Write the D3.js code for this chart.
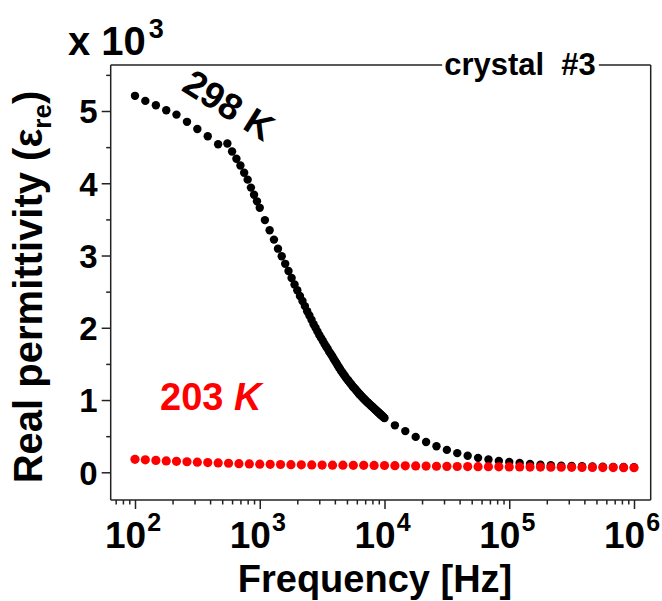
<!DOCTYPE html>
<html><head><meta charset="utf-8">
<script src="https://cdn.jsdelivr.net/npm/d3@7"></script>
<style>
html,body{margin:0;padding:0;background:#fff;}
svg{display:block;}
text{font-family:"Liberation Sans",Arial,sans-serif;font-weight:bold;}
</style></head>
<body>
<svg id="chart" width="662" height="601"></svg>
<script>
// ---------- data ----------
const xMajorTicks = [1e2, 1e3, 1e4, 1e5, 1e6];
const xMajorExp = ["2", "3", "4", "5", "6"];
const yMajorTicks = [0, 1, 2, 3, 4, 5];
const yMinorTicks = [0.5, 1.5, 2.5, 3.5, 4.5, 5.5];

// 298 K : low-frequency sweep
const freq298Low = [100,121,147,178,215,261,316,383,464];
const eps298Low  = [5.21,5.14,5.08,5.01,4.95,4.85,4.75,4.65,4.54];
// 298 K : dense sweep
const freq298Mid = [550,600,650,700,750,800,850,900,950,1000,
  1100,1200,1300,1400,1500,1600,1700,1800,1900,2000,
  2100,2200,2300,2400,2500,2600,2700,2800,2900,3000,
  3100,3200,3300,3400,3500,3600,3700,3800,3900,4000,
  4100,4200,4300,4400,4500,4600,4700,4800,4900,5000,
  5100,5200,5300,5400,5500,5600,5700,5800,5900,6000,
  6100,6200,6300,6400,6500,6600,6700,6800,6900,7000,
  7100,7200,7300,7400,7500,7600,7700,7800,7900,8000,
  8100,8200,8300,8400,8500,8600,8700,8800,8900,9000,
  9100,9200,9300,9400,9500,9600,9700,9800,9900,10000];
const eps298Mid = [4.55,4.44,4.34,4.245,4.145,4.05,3.94,3.84,3.75,3.66,
  3.49,3.35,3.22,3.095,2.99,2.885,2.785,2.69,2.60,2.52,
  2.44,2.37,2.30,2.23,2.17,2.11,2.05,2.00,1.95,1.90,
  1.86,1.82,1.78,1.74,1.71,1.67,1.64,1.61,1.575,1.545,
  1.515,1.485,1.455,1.43,1.40,1.38,1.355,1.335,1.31,1.29,
  1.275,1.255,1.235,1.22,1.20,1.18,1.17,1.155,1.14,1.125,
  1.11,1.095,1.08,1.07,1.057,1.045,1.033,1.022,1.01,0.999,
  0.988,0.978,0.969,0.959,0.95,0.94,0.931,0.922,0.914,0.905,
  0.896,0.888,0.879,0.871,0.863,0.855,0.847,0.839,0.831,0.823,
  0.816,0.808,0.80,0.793,0.786,0.778,0.771,0.764,0.757,0.75];
// 298 K : high-frequency sweep
const freq298High = [12115,14678,17783,21544,26102,31623,38312,46416,56234,68129,82540,100000,
  121153,146780,177828,215443,261016,316228,383119,464159,562341,681292,825404,1000000];
const eps298High = [0.65,0.57,0.49,0.42,0.36,0.31,0.265,0.23,0.20,0.178,0.158,0.142,
  0.128,0.116,0.106,0.098,0.092,0.087,0.083,0.080,0.077,0.075,0.073,0.071];

// 203 K
const freq203 = [100,121,147,178,215,261,316,383,464,562,681,825,1000,
  1212,1468,1778,2154,2610,3162,3831,4642,5623,6813,8254,10000,
  12115,14678,17783,21544,26102,31623,38312,46416,56234,68129,82540,100000,
  121153,146780,177828,215443,261016,316228,383119,464159,562341,681292,825404,1000000];
const eps203 = [0.18,0.172,0.165,0.158,0.152,0.146,0.14,0.135,0.13,0.125,0.12,0.116,0.112,
  0.11,0.108,0.106,0.104,0.102,0.10,0.099,0.098,0.097,0.096,0.095,0.094,
  0.092,0.09,0.088,0.086,0.084,0.082,0.08,0.079,0.078,0.077,0.076,0.075,
  0.074,0.073,0.072,0.071,0.07,0.069,0.068,0.067,0.066,0.065,0.064,0.063];

// ---------- layout ----------
const frame = {left: 110.7, right: 650.7, top: 65, bottom: 500};
const svg = d3.select("#chart");
const x = d3.scaleLog().domain([1e2, 1e6]).range([135, 634]);
const y = d3.scaleLinear().domain([0, 5]).range([472.3, 111]);
const axisColor = "#222";

// minor x ticks
const xMinorTicks = [];
[10, 100, 1000, 10000, 100000].forEach(d => {
  for (let m = 2; m <= 9; m++) {
    const v = d * m;
    const px = x(v);
    if (px > frame.left + 1 && px < frame.right - 1) xMinorTicks.push(v);
  }
});

// ---------- axes ----------
const gx = svg.append("g").attr("transform", `translate(0,${frame.bottom})`);
gx.call(d3.axisBottom(x).tickValues(xMajorTicks).tickSize(9).tickFormat(""));
const gxm = svg.append("g").attr("transform", `translate(0,${frame.bottom})`);
gxm.call(d3.axisBottom(x).tickValues(xMinorTicks).tickSize(4.5).tickFormat(""));
const gy = svg.append("g").attr("transform", `translate(${frame.left},0)`);
gy.call(d3.axisLeft(y).tickValues(yMajorTicks).tickSize(9).tickFormat(d3.format("d")));
const gym = svg.append("g").attr("transform", `translate(${frame.left},0)`);
gym.call(d3.axisLeft(y).tickValues(yMinorTicks).tickSize(4.5).tickFormat(""));
[gx, gxm, gy, gym].forEach(g => {
  g.select(".domain").remove();
  g.selectAll(".tick line").attr("stroke", axisColor).attr("stroke-width", 1.5);
});
gy.selectAll(".tick text")
  .attr("x", -13).attr("dy", "0.36em")
  .attr("font-size", 33).attr("font-weight", "bold")
  .attr("font-family", '"Liberation Sans",Arial,sans-serif').attr("fill", "#000");

// x tick labels with superscripts
const xl = svg.append("g");
xMajorTicks.forEach((v, i) => {
  const t = xl.append("text").attr("x", x(v) - 2).attr("y", 548)
    .attr("text-anchor", "middle").attr("font-size", 37).attr("fill", "#000");
  t.append("tspan").text("10");
  t.append("tspan").attr("font-size", 25).attr("dy", -17).attr("dx", 1).text(xMajorExp[i]);
});

// ---------- frame ----------
const fr = svg.append("g").attr("stroke", axisColor).attr("stroke-width", 1.5).attr("fill", "none");
fr.append("line").attr("x1", frame.left).attr("x2", frame.left).attr("y1", frame.top).attr("y2", frame.bottom);
fr.append("line").attr("x1", frame.left).attr("x2", frame.right).attr("y1", frame.bottom).attr("y2", frame.bottom);
fr.append("line").attr("x1", frame.right).attr("x2", frame.right).attr("y1", frame.top).attr("y2", frame.bottom);

const crystal = svg.append("text").attr("x", 520).attr("y", 75).attr("text-anchor", "middle")
  .attr("font-size", 31).attr("fill", "#000").text("crystal\u00a0\u00a0#3");
const cb = crystal.node().getBBox();
fr.append("line").attr("x1", frame.left).attr("x2", cb.x - 2).attr("y1", frame.top).attr("y2", frame.top);
fr.append("line").attr("x1", cb.x + cb.width + 3).attr("x2", frame.right).attr("y1", frame.top).attr("y2", frame.top);

// ---------- data points ----------
const pts298 = [];
freq298Low.forEach((f, i) => pts298.push([f, eps298Low[i]]));
freq298Mid.forEach((f, i) => pts298.push([f, eps298Mid[i]]));
freq298High.forEach((f, i) => pts298.push([f, eps298High[i]]));
svg.append("g").selectAll("circle").data(pts298).join("circle")
  .attr("cx", d => x(d[0])).attr("cy", d => y(d[1])).attr("r", 4.2).attr("fill", "#000");

const pts203 = freq203.map((f, i) => [f, eps203[i]]);
svg.append("g").selectAll("circle").data(pts203).join("circle")
  .attr("cx", d => x(d[0])).attr("cy", d => y(d[1])).attr("r", 4.6).attr("fill", "#ff0000");

// ---------- labels ----------
const mult = svg.append("text").attr("x", 68).attr("y", 55).attr("font-size", 40).attr("fill", "#000");
mult.append("tspan").text("x 10");
mult.append("tspan").attr("font-size", 27).attr("dy", -17).attr("dx", 3).text("3");

const ylab = svg.append("text").attr("transform", "translate(42,287) rotate(-90)")
  .attr("text-anchor", "middle").attr("font-size", 40).attr("fill", "#000");
ylab.append("tspan").text("Real permittivity (ε");
ylab.append("tspan").attr("font-size", 26).attr("dy", 9).text("re");
ylab.append("tspan").attr("dy", -9).text(")");

svg.append("text").attr("x", 375).attr("y", 592).attr("text-anchor", "middle")
  .attr("font-size", 38).attr("fill", "#000").text("Frequency [Hz]");

const l298 = svg.append("text").attr("transform", "translate(222,116) rotate(32)")
  .attr("text-anchor", "middle").attr("font-size", 37).attr("fill", "#000");
l298.append("tspan").text("298 K");

const l203 = svg.append("text").attr("x", 160).attr("y", 410)
  .attr("font-size", 38).attr("fill", "#ff0000");
l203.append("tspan").text("203 ");
l203.append("tspan").attr("font-style", "italic").text("K");
</script>
</body></html>
